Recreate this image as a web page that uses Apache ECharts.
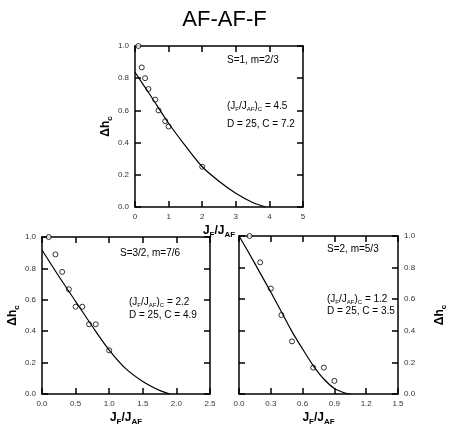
<!DOCTYPE html>
<html>
<head>
<meta charset="utf-8">
<script src="https://cdn.jsdelivr.net/npm/echarts@6/dist/echarts.min.js"></script>
<style>
html,body{margin:0;padding:0;background:#fff;}
#chart{width:449px;height:427px;}
</style>
</head>
<body>
<div id="chart"></div>
<script>
// ---- Data ----
const chartTitle = 'AF-AF-F';

// Panel 1: S=1, m=2/3
const p1PointsX = [0.1, 0.2, 0.3, 0.4, 0.6, 0.7, 0.9, 1.0, 2.0];
const p1PointsY = [1.0, 0.867, 0.8, 0.733, 0.667, 0.6, 0.533, 0.5, 0.25];
const p1CurveX = [0, 0.5, 1.0, 1.5, 2.0, 2.5, 3.0, 3.5, 3.9];
const p1CurveY = [0.837, 0.68, 0.52, 0.38, 0.25, 0.16, 0.085, 0.028, 0];
const p1Texts = ['S=1, m=2/3', '4.5', 'D = 25, C = 7.2'];

// Panel 2: S=3/2, m=7/6
const p2PointsX = [0.1, 0.2, 0.3, 0.4, 0.5, 0.6, 0.7, 0.8, 1.0];
const p2PointsY = [1.0, 0.889, 0.778, 0.667, 0.556, 0.556, 0.444, 0.444, 0.278];
const p2CurveX = [0, 0.25, 0.5, 0.75, 1.0, 1.25, 1.5, 1.75, 1.9];
const p2CurveY = [0.917, 0.75, 0.59, 0.43, 0.28, 0.16, 0.08, 0.023, 0];
const p2Texts = ['S=3/2, m=7/6', '2.2', 'D = 25, C = 4.9'];

// Panel 3: S=2, m=5/3
const p3PointsX = [0.1, 0.2, 0.3, 0.4, 0.5, 0.7, 0.8, 0.9];
const p3PointsY = [1.0, 0.833, 0.667, 0.5, 0.333, 0.167, 0.167, 0.083];
const p3CurveX = [0, 0.1, 0.2, 0.3, 0.4, 0.5, 0.6, 0.7, 0.8, 0.9, 1.0, 1.05];
const p3CurveY = [1.0, 0.885, 0.765, 0.645, 0.52, 0.395, 0.285, 0.18, 0.095, 0.035, 0.006, 0];
const p3Texts = ['S=2, m=5/3', '1.2', 'D = 25, C = 3.5'];

// ---- Build ----
const FONT = '"Liberation Sans", Arial, sans-serif';
const nameRich = {
  rich: {
    b: {fontSize: 12, fontWeight: 'bold', fontFamily: FONT, color: '#000'},
    s: {fontSize: 8, fontWeight: 'bold', fontFamily: FONT, color: '#000', padding: [8, 0, 0, 0]}
  }
};

const panels = [
  {grid: {left: 135, top: 46, width: 168, height: 161}, xmax: 5, xint: 1, px: p1PointsX, py: p1PointsY, cx: p1CurveX, cy: p1CurveY, yRight: false, xDec: 0, texts: p1Texts},
  {grid: {left: 42, top: 237, width: 168, height: 161}, xmax: 2.5, xint: 0.5, px: p2PointsX, py: p2PointsY, cx: p2CurveX, cy: p2CurveY, yRight: false, xDec: 1, texts: p2Texts},
  {grid: {left: 239, top: 236, width: 159, height: 161}, xmax: 1.5, xint: 0.3, px: p3PointsX, py: p3PointsY, cx: p3CurveX, cy: p3CurveY, yRight: true, xDec: 1, texts: p3Texts}
];

const grids = [], xAxes = [], yAxes = [], series = [], graphics = [];
const mkLine = () => ({show: true, onZero: false, lineStyle: {color: '#000', width: 1.5}});
const mkTick = () => ({show: true, inside: true, length: 6, lineStyle: {color: '#000', width: 1.5}});
const axisLabel = {show: true, fontSize: 8, color: '#333', fontFamily: FONT, margin: 6};

panels.forEach((p, i) => {
  grids.push(Object.assign({containLabel: false}, p.grid));
  const xi = xAxes.length;
  xAxes.push({
    type: 'value', gridIndex: i, position: 'bottom', min: 0, max: p.xmax, interval: p.xint,
    axisLine: mkLine(), axisTick: mkTick(), splitLine: {show: false},
    axisLabel: Object.assign({}, axisLabel, {formatter: v => v.toFixed(p.xDec)}),
    name: '{b|J}{s|F}{b|/J}{s|AF}', nameLocation: 'middle', nameGap: 16, nameTextStyle: nameRich
  });
  xAxes.push({
    type: 'value', gridIndex: i, position: 'top', min: 0, max: p.xmax, interval: p.xint,
    axisLine: mkLine(), axisTick: mkTick(), splitLine: {show: false}, axisLabel: {show: false}
  });
  const yi = yAxes.length;
  const yMain = {
    type: 'value', gridIndex: i, position: p.yRight ? 'right' : 'left', min: 0, max: 1, interval: 0.2,
    axisLine: mkLine(), axisTick: mkTick(), splitLine: {show: false},
    axisLabel: Object.assign({}, axisLabel, {formatter: v => v.toFixed(1)}),
    name: '{b|Δh}{s|c}', nameLocation: 'middle', nameGap: p.yRight ? 34 : 18, nameTextStyle: nameRich
  };
  const yMirror = {
    type: 'value', gridIndex: i, position: p.yRight ? 'left' : 'right', min: 0, max: 1, interval: 0.2,
    axisLine: mkLine(), axisTick: mkTick(), splitLine: {show: false}, axisLabel: {show: false}
  };
  yAxes.push(yMain, yMirror);
  series.push({
    type: 'line', xAxisIndex: xi, yAxisIndex: yi,
    data: p.cx.map((x, k) => [x, p.cy[k]]),
    smooth: 0.3, showSymbol: false, symbol: 'none',
    lineStyle: {color: '#000', width: 1.2}, clip: true, silent: true
  });
  series.push({
    type: 'scatter', xAxisIndex: xi, yAxisIndex: yi,
    data: p.px.map((x, k) => [x, p.py[k]]),
    symbol: 'circle', symbolSize: 5,
    itemStyle: {color: '#fff', borderColor: '#000', borderWidth: 1}, silent: true
  });
});

// annotation texts (positioned in pixels)
const annPos = [
  {x: 227, y1: 61, y2: 109, y3: 125},
  {x: 120, y1: 254, y2: 305, y3: 316, x2: 129},
  {x: 327, y1: 250, y2: 302, y3: 312}
];
const annRich = {
  t: {fontSize: 10, fontFamily: FONT, color: '#000'},
  s: {fontSize: 6, fontFamily: FONT, color: '#000', padding: [6, 0, 0, 0]}
};
panels.forEach((p, i) => {
  const a = annPos[i];
  const x2 = a.x2 || a.x;
  graphics.push({type: 'text', left: a.x, top: a.y1 - 6, style: {text: p.texts[0], font: '10px ' + FONT, fill: '#000'}});
  graphics.push({type: 'text', left: x2, top: a.y2 - 8, style: {text: '{t|(J}{s|F}{t|/J}{s|AF}{t|)}{s|C}{t| = ' + p.texts[1] + '}', rich: annRich}});
  graphics.push({type: 'text', left: x2, top: a.y3 - 6, style: {text: p.texts[2], font: '10px ' + FONT, fill: '#000'}});
});

const option = {
  backgroundColor: '#fff',
  animation: false,
  title: {text: chartTitle, left: 'center', top: 4, textStyle: {fontSize: 22, fontWeight: 'normal', color: '#000', fontFamily: FONT}},
  grid: grids, xAxis: xAxes, yAxis: yAxes, series, graphic: graphics
};
const chart = echarts.init(document.getElementById('chart'), null, {renderer: 'canvas'});
chart.setOption(option);
</script>
</body>
</html>
